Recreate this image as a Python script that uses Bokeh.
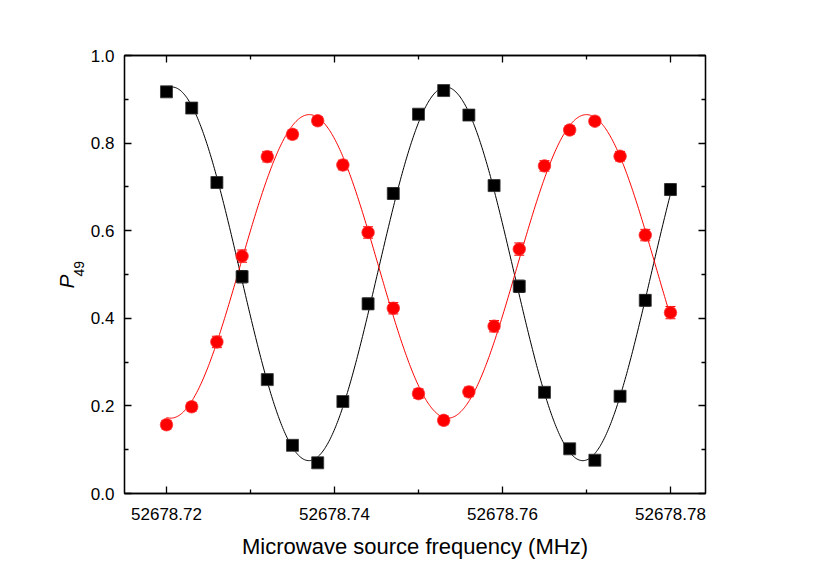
import numpy as np
from bokeh.plotting import figure
from bokeh.models import (Range1d, LinearAxis, FixedTicker, PrintfTickFormatter,
                          CustomJSTickFormatter, Whisker, TeeHead, ColumnDataSource, Title)
from bokeh.embed import file_html
from bokeh.resources import INLINE

# ---- data ----
freq = [52678.720, 52678.723, 52678.726, 52678.729, 52678.732, 52678.735, 52678.738,
        52678.741, 52678.744, 52678.747, 52678.750, 52678.753, 52678.756, 52678.759,
        52678.762, 52678.765, 52678.768, 52678.771, 52678.774, 52678.777, 52678.780]

p_black = [0.917, 0.880, 0.710, 0.495, 0.260, 0.110, 0.070, 0.210, 0.433, 0.685, 0.866,
           0.920, 0.864, 0.703, 0.473, 0.231, 0.102, 0.076, 0.222, 0.441, 0.694]
err_black = [0.008, 0.009, 0.012, 0.014, 0.011, 0.007, 0.006, 0.010, 0.013, 0.013, 0.009,
             0.007, 0.009, 0.012, 0.014, 0.011, 0.007, 0.006, 0.011, 0.013, 0.013]

p_red = [0.157, 0.198, 0.346, 0.542, 0.769, 0.820, 0.851, 0.750, 0.596, 0.423, 0.228,
         0.167, 0.232, 0.382, 0.558, 0.748, 0.830, 0.850, 0.770, 0.590, 0.413]
err_red = [0.010, 0.010, 0.013, 0.014, 0.012, 0.010, 0.009, 0.011, 0.013, 0.013, 0.011,
           0.010, 0.011, 0.013, 0.014, 0.012, 0.010, 0.009, 0.011, 0.013, 0.014]

# sinusoidal fit parameters: offset, amplitude, peak position, period
fit_black = dict(offset=0.5015, amp=0.4265, x0=52678.72066, period=0.0326)
fit_red = dict(offset=0.5185, amp=0.3465, x0=52678.7370, period=0.0330)

x_ticks = [52678.72, 52678.74, 52678.76, 52678.78]
x_minor = [52678.73, 52678.75, 52678.77]
y_ticks = [0.0, 0.2, 0.4, 0.6, 0.8, 1.0]
y_minor = [0.1, 0.3, 0.5, 0.7, 0.9]

FONT = "Liberation Sans"

p = figure(frame_width=581, frame_height=438,
           min_border_left=124, min_border_right=123, min_border_top=55, min_border_bottom=86,
           x_range=Range1d(52678.715, 52678.78417), y_range=Range1d(0, 1),
           x_axis_location=None, y_axis_location=None,
           output_backend="svg", toolbar_location=None)
p.grid.visible = False
p.outline_line_color = "black"
p.outline_line_width = 1.3
p.background_fill_color = "white"
p.border_fill_color = "white"

blank = CustomJSTickFormatter(code="return ''")


def style_axis(ax, show_labels):
    ax.axis_line_width = 1.3
    ax.major_tick_line_width = 1.3
    ax.minor_tick_line_width = 1.3
    ax.major_tick_in = 7
    ax.major_tick_out = 0
    ax.minor_tick_in = 4
    ax.minor_tick_out = 0
    ax.major_label_text_font = FONT
    ax.major_label_text_font_size = "17px"
    ax.major_label_text_color = "black"
    ax.axis_label_text_font = FONT
    ax.axis_label_text_font_style = "normal"
    ax.axis_label_text_color = "black"
    if not show_labels:
        ax.formatter = blank


xb = LinearAxis(ticker=FixedTicker(ticks=x_ticks, minor_ticks=x_minor),
                formatter=PrintfTickFormatter(format="%.2f"),
                axis_label="Microwave source frequency (MHz)")
style_axis(xb, True)
xb.major_label_standoff = 14
xb.axis_label_standoff = 11
xb.axis_label_text_font_size = "22px"
p.add_layout(xb, "below")

xt = LinearAxis(ticker=FixedTicker(ticks=x_ticks, minor_ticks=x_minor))
style_axis(xt, False)
p.add_layout(xt, "above")

# left axis: the subscript "49" of the y label is the axis label, the italic P a side title
yl = LinearAxis(ticker=FixedTicker(ticks=y_ticks, minor_ticks=y_minor),
                formatter=PrintfTickFormatter(format="%.1f"),
                axis_label="\u00a0\u00a0\u00a049")
style_axis(yl, True)
yl.major_label_standoff = 10
yl.axis_label_standoff = 1
yl.axis_label_text_font_size = "14px"
p.add_layout(yl, "left")

p.add_layout(Title(text="P", text_font=FONT, text_font_size="21px",
                   text_font_style="italic", text_color="black",
                   align="left", vertical_align="bottom", offset=205, standoff=-20), "left")

yr = LinearAxis(ticker=FixedTicker(ticks=y_ticks, minor_ticks=y_minor))
style_axis(yr, False)
p.add_layout(yr, "right")

# fit curves
xs = np.linspace(freq[0], freq[-1], 600)
for fit, col in ((fit_black, "black"), (fit_red, "red")):
    ys = fit["offset"] + fit["amp"] * np.cos(2 * np.pi * (xs - fit["x0"]) / fit["period"])
    p.line(xs, ys, line_color=col, line_width=1)

# error bars + markers
for vals, errs, col in ((p_black, err_black, "black"), (p_red, err_red, "red")):
    src = ColumnDataSource(dict(x=freq, y=vals,
                                lo=[v - e for v, e in zip(vals, errs)],
                                hi=[v + e for v, e in zip(vals, errs)]))
    w = Whisker(source=src, base="x", lower="lo", upper="hi", dimension="height",
                line_color=col, line_width=1,
                lower_head=TeeHead(size=10, line_color=col, line_width=1),
                upper_head=TeeHead(size=10, line_color=col, line_width=1))
    p.add_layout(w)
    if col == "black":
        p.scatter("x", "y", source=src, marker="square", size=12,
                  fill_color="black", line_color="#333333", line_width=0.8)
    else:
        p.scatter("x", "y", source=src, marker="circle", size=12.5,
                  fill_color="red", line_color="#ff3333", line_width=0.8)

open("out.html", "w").write(file_html(p, INLINE))
